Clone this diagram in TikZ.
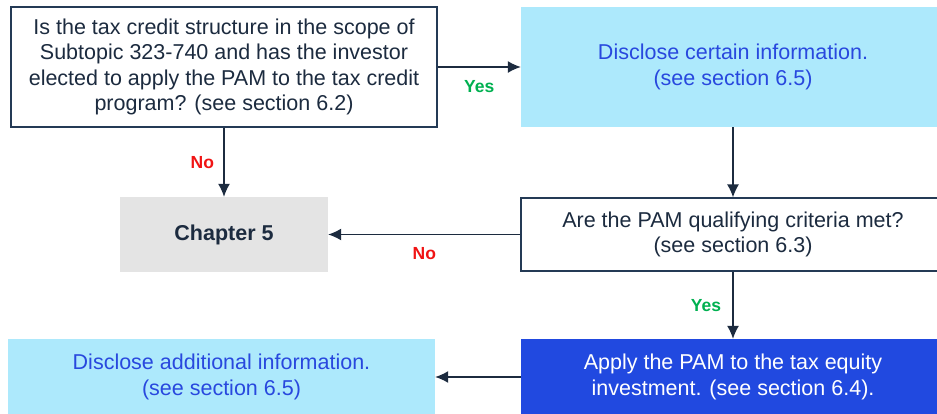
\documentclass[tikz,border=0pt]{standalone}
\usepackage{fontspec}
\setmainfont{Liberation Sans}
\usetikzlibrary{arrows.meta}
\definecolor{navy}{RGB}{28,43,63}
\definecolor{boxline}{RGB}{36,58,85}
\definecolor{lightcyan}{RGB}{173,233,252}
\definecolor{textblue}{RGB}{40,72,222}
\definecolor{deepblue}{RGB}{33,73,224}
\definecolor{chapgray}{RGB}{228,228,228}
\definecolor{yesgreen}{RGB}{0,176,80}
\definecolor{nored}{RGB}{240,20,20}
\begin{document}
\begin{tikzpicture}[x=1pt,y=-1pt,
    box/.style={rectangle, align=center, inner sep=0pt, text=navy,
      font=\fontsize{21.5}{25.5}\selectfont},
    question/.style={box, draw=boxline, line width=1.3pt, fill=white},
    info/.style={box, fill=lightcyan, text=textblue},
    action/.style={box, fill=deepblue, text=white},
    chapter/.style={box, fill=chapgray, font=\fontsize{21.5}{25.5}\selectfont\bfseries},
    arr/.style={navy, line width=1.3pt, -{Latex[length=13pt,width=12pt]}},
    yes/.style={text=yesgreen, font=\fontsize{17.5}{20}\selectfont\bfseries},
    no/.style={text=nored, font=\fontsize{17.5}{20}\selectfont\bfseries}]
    % cadre de la figure
    \useasboundingbox (0,0) rectangle (937,413);

    % colonne de gauche
    \node[question, minimum width=426, minimum height=120] (scope) at (224,67)
      {Is the tax credit structure in the scope of\\Subtopic 323-740 and has the investor\\elected to apply the PAM to the tax credit\\program? (see section 6.2)};
    \node[chapter, minimum width=208, minimum height=75] (chap) at (224,234.5) {Chapter 5};
    \node[info, minimum width=427, minimum height=76] (addinfo) at (221.5,377)
      {Disclose additional information.\\(see section 6.5)};

    % colonne de droite
    \node[info, minimum width=424, minimum height=120] (certinfo) at (733,67)
      {Disclose certain information.\\(see section 6.5)};
    \node[question, minimum width=424, minimum height=73] (criteria) at (733,234.5)
      {Are the PAM qualifying criteria met?\\(see section 6.3)};
    \node[action, minimum width=424, minimum height=76] (apply) at (733,377)
      {Apply the PAM to the tax equity\\investment. (see section 6.4).};

    % fleches
    \draw[arr] (scope) -- (certinfo) node[yes, midway, below=9pt] {Yes};
    \draw[arr] (scope) -- (chap) node[no, midway, left=6pt] {No};
    \draw[arr] (certinfo) -- (criteria);
    \draw[arr] (criteria) -- (chap) node[no, midway, below=9pt] {No};
    \draw[arr] (criteria) -- (apply) node[yes, midway, left=8pt] {Yes};
    \draw[arr] (apply) -- (addinfo);
\end{tikzpicture}
\end{document}
